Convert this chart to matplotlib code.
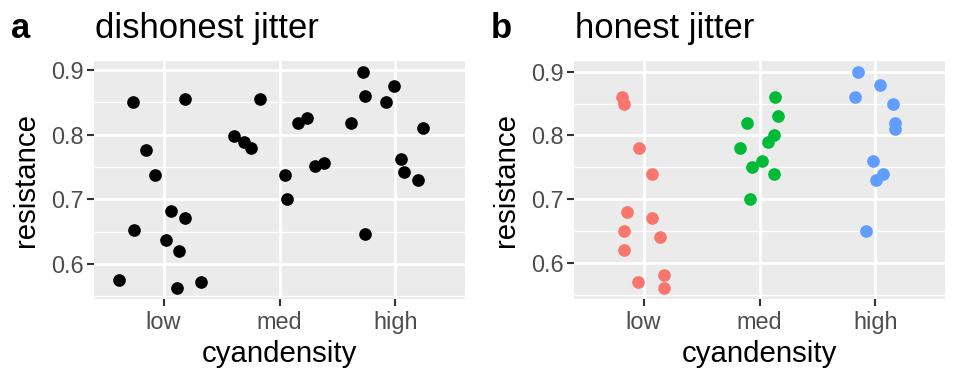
import matplotlib.pyplot as plt
import numpy as np

plt.rcParams['font.family'] = ['Liberation Sans', 'DejaVu Sans']

categories = ["low", "med", "high"]

# dishonest jitter: positions jittered in both x and y
dis_x = [0.734, 1.182, 0.850, 0.922, 1.061, 1.188, 0.743, 1.023, 1.133, 0.613, 1.118, 1.320,
         1.606, 1.693, 1.753, 1.831, 2.048, 2.062, 2.163, 2.235, 2.307, 2.388,
         2.717, 2.740, 2.986, 2.919, 2.616, 3.237, 3.046, 3.078, 3.193, 2.740]
dis_y = [0.850, 0.855, 0.777, 0.738, 0.682, 0.671, 0.652, 0.637, 0.620, 0.576, 0.563, 0.573,
         0.798, 0.789, 0.780, 0.855, 0.737, 0.700, 0.818, 0.826, 0.752, 0.756,
         0.897, 0.860, 0.876, 0.850, 0.818, 0.810, 0.763, 0.743, 0.730, 0.647]

# honest jitter: x jittered only, y exact
low_x = [0.816, 0.835, 0.957, 1.072, 0.859, 1.075, 0.827, 1.139, 0.835, 0.950, 1.173, 1.176]
low_y = [0.86, 0.85, 0.78, 0.74, 0.68, 0.67, 0.65, 0.64, 0.62, 0.57, 0.58, 0.56]
med_x = [2.134, 2.163, 1.889, 2.126, 2.077, 1.831, 2.019, 1.932, 2.126, 1.918]
med_y = [0.86, 0.83, 0.82, 0.80, 0.79, 0.78, 0.76, 0.75, 0.74, 0.70]
high_x = [2.847, 3.043, 2.821, 3.153, 3.173, 3.173, 2.980, 3.064, 3.009, 2.919]
high_y = [0.90, 0.88, 0.86, 0.85, 0.82, 0.81, 0.76, 0.74, 0.73, 0.65]

colors = ["#F8766D", "#00BA38", "#619CFF"]

W, H = 960, 384
fig = plt.figure(figsize=(W / 96, H / 96), dpi=96)

PANEL_TOP, PANEL_BOT = 61, 299


def style_axes(ax, ylim, left_px, right_px):
    ax.set_facecolor("#EBEBEB")
    for s in ax.spines.values():
        s.set_visible(False)
    ax.set_xlim(0.4, 3.6)
    ax.set_ylim(*ylim)
    ax.set_xticks([1, 2, 3])
    ax.set_xticklabels(categories)
    ax.set_yticks([0.6, 0.7, 0.8, 0.9])
    ax.set_yticklabels(["0.6", "0.7", "0.8", "0.9"])
    ax.set_yticks([0.55, 0.65, 0.75, 0.85], minor=True)
    ax.grid(True, which="major", color="white", linewidth=2.1)
    ax.grid(True, which="minor", axis="y", color="white", linewidth=1.05)
    ax.set_axisbelow(True)
    ax.tick_params(which="major", length=5.2, width=1.6, color="#333333",
                   labelsize=17.6, labelcolor="#4D4D4D")
    ax.tick_params(axis="x", which="major", pad=3.5)
    ax.tick_params(axis="y", which="major", pad=2.5)
    ax.tick_params(which="minor", length=0)
    ax.set_xlabel("cyandensity", fontsize=22)
    ax.set_ylabel("resistance", fontsize=22)
    ax.xaxis.label.set_va("baseline")
    ax.yaxis.label.set_va("baseline")
    ax.xaxis.set_label_coords((left_px + right_px) / 2 / W, 1 - 362 / H,
                              transform=fig.transFigure)
    ax.yaxis.set_label_coords((left_px - 94 + 33.5) / W,
                              1 - (PANEL_TOP + PANEL_BOT) / 2 / H,
                              transform=fig.transFigure)


ax1 = fig.add_axes([94 / W, 1 - PANEL_BOT / H, 371 / W, (PANEL_BOT - PANEL_TOP) / H])
style_axes(ax1, (0.546, 0.914), 94, 465)
ax1.scatter(dis_x, dis_y, s=90, color="black", linewidths=0, zorder=3)

ax2 = fig.add_axes([574 / W, 1 - PANEL_BOT / H, 371 / W, (PANEL_BOT - PANEL_TOP) / H])
style_axes(ax2, (0.543, 0.917), 574, 945)
for xs, ys, c in zip([low_x, med_x, high_x], [low_y, med_y, high_y], colors):
    ax2.scatter(xs, ys, s=90, color=c, linewidths=0, zorder=3)

# titles and panel tags
fig.text(95 / W, 1 - 38 / H, "dishonest jitter", fontsize=26, va="baseline")
fig.text(575 / W, 1 - 38 / H, "honest jitter", fontsize=26, va="baseline")
fig.text(11 / W, 1 - 38 / H, "a", fontsize=26, fontweight="bold", va="baseline")
fig.text(491 / W, 1 - 38 / H, "b", fontsize=26, fontweight="bold", va="baseline")

fig.savefig("out.png", dpi=96)
